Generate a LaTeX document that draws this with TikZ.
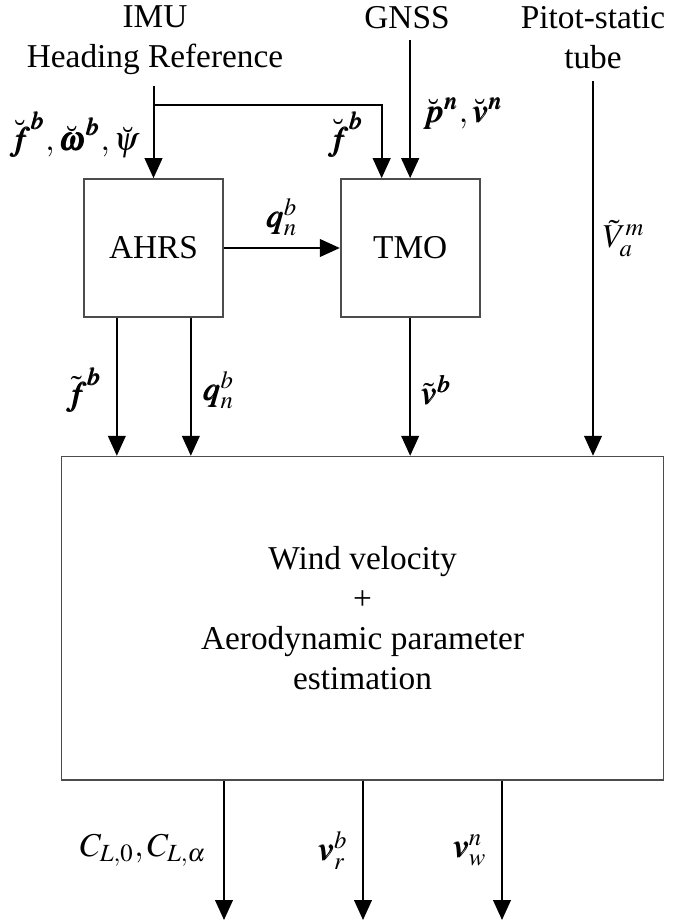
\documentclass[tikz,border=0pt]{standalone}
\usepackage{mathptmx}
\usepackage[no-math]{fontspec}
\setmainfont{Liberation Serif}
\usepackage{bm}
\usetikzlibrary{arrows.meta,positioning}

\begin{document}
\begin{tikzpicture}[
  x=0.3pt, y=-0.3pt,
  block/.style={draw=black!70, line width=0.5pt, minimum width=41.7pt,
                minimum height=41.4pt, inner sep=0pt},
  wide/.style={block, minimum width=180.6pt, minimum height=97pt, align=center},
  src/.style={align=center},
  sig/.style={inner sep=0pt},
  arrow/.style={-{Triangle[length=6pt,width=5.3pt]}, line width=0.6pt}
]
\useasboundingbox (0,0) rectangle (691,921);
\node[block] (ahrs) at (153.5,248) {AHRS};
\node[block, right=34.8pt of ahrs] (tmo) {TMO};
\node[wide] (est) at (362.6,618.3) {Wind velocity\\+\\Aerodynamic parameter\\estimation};
\node[src] (imu) at (155,40) {IMU\\Heading Reference};
\node[src] (gnss) at (407,17.5) {GNSS};
\node[src] (pitot) at (593,38) {Pitot-static\\tube};
\coordinate (split) at (153.5,105);
\coordinate (fa) at ([xshift=-11pt]ahrs.south);
\coordinate (qa) at ([xshift=11.2pt]ahrs.south);
\coordinate (o1) at (224,920);
\coordinate (o2) at (363,920);
\coordinate (o3) at (502,920);

\draw[arrow] (imu.south -| ahrs.north) -- node[sig, left=4pt, pos=0.53] (imuin)
  {$\breve{\bm f}^{\bm b},\breve{\bm\omega}^{\bm b},\breve\psi$} (ahrs.north);
\draw[arrow] (split) -| node[sig, left=5.1pt, pos=0.7] (fin)
  {$\breve{\bm f}^{\bm b}$} ([xshift=-8.55pt]tmo.north);
\draw[arrow] (gnss.south -| tmo.north) -- node[sig, right=3.6pt, pos=0.53] (gnssin)
  {$\breve{\bm p}^{\bm n},\breve{\bm v}^{\bm n}$} (tmo.north);
\draw[arrow] (ahrs) -- node[sig, above=3.3pt] (qin) {$\bm q_n^b$} (tmo);
\draw[arrow] (pitot.south) -- node[sig, right=2.6pt, pos=0.42] (vin)
  {$\tilde V_a^m$} (pitot.south |- est.north);
\draw[arrow] (fa) -- node[sig, left=4.2pt, pos=0.525] (fout)
  {$\tilde{\bm f}^{\bm b}$} (fa |- est.north);
\draw[arrow] (qa) -- node[sig, right=3.2pt, pos=0.525] (qout)
  {$\bm q_n^b$} (qa |- est.north);
\draw[arrow] (tmo.south) -- node[sig, right=2.8pt, pos=0.525] (vout)
  {$\tilde{\bm v}^{\bm b}$} (tmo.south |- est.north);
\draw[arrow] (o1 |- est.south) -- node[sig, left=4.8pt] (cl) {$C_{L,0},C_{L,\alpha}$} (o1);
\draw[arrow] (o2 |- est.south) -- node[sig, left=4.2pt] (vr) {$\bm v_r^b$} (o2);
\draw[arrow] (o3 |- est.south) -- node[sig, left=4.2pt] (vw) {$\bm v_w^n$} (o3);
\end{tikzpicture}
\end{document}
